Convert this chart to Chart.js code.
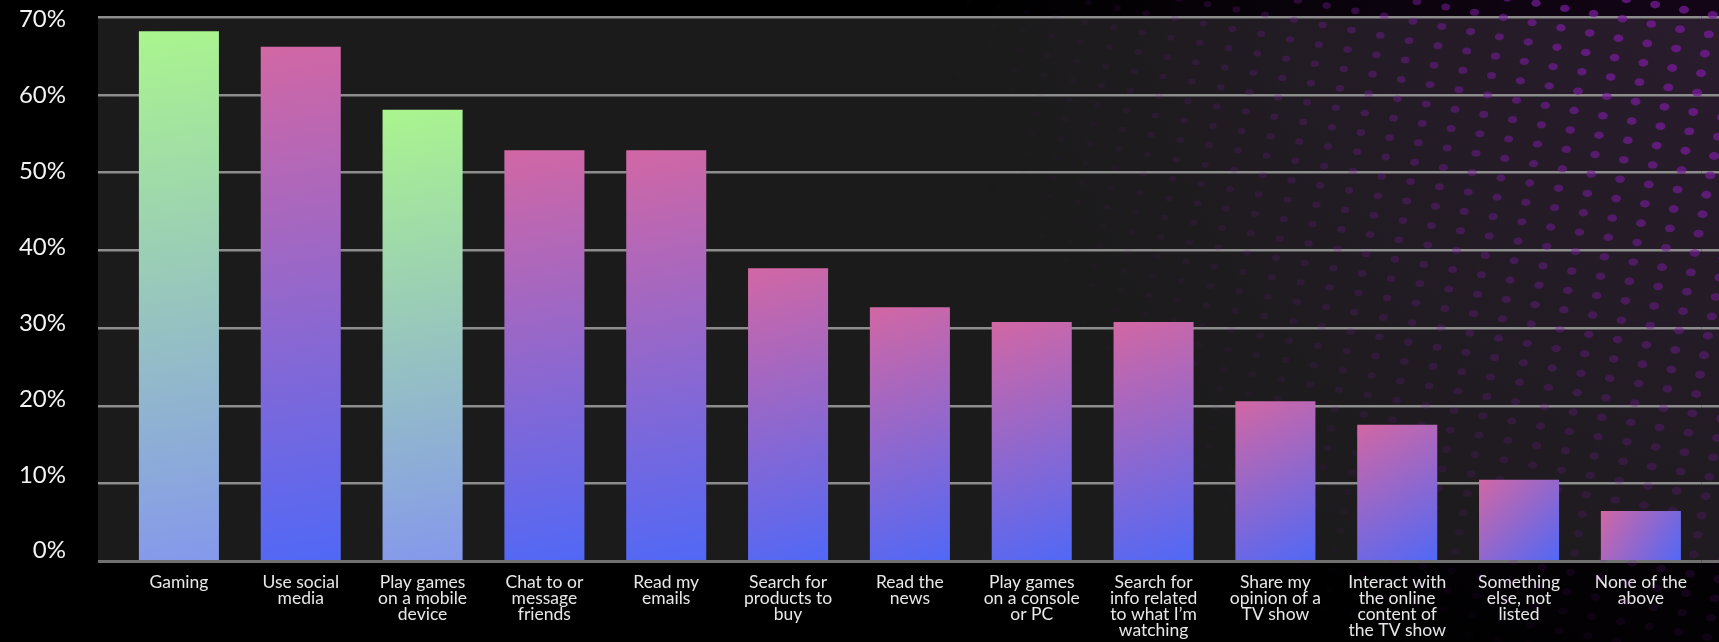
<!DOCTYPE html>
<html>
<head>
<meta charset="utf-8">
<title>Activities while watching TV</title>
<script src="https://cdn.jsdelivr.net/npm/chart.js@4.4.1/dist/chart.umd.min.js"></script>
<style>
    html, body { margin: 0; padding: 0; background: #000; overflow: hidden; }
    #wrap { width: 1719px; height: 642px; position: relative; }
    canvas { display: block; }
</style>
</head>
<body>
<div id="wrap"><canvas id="activity-chart"></canvas></div>
<script>
// Categories (multi-line tick labels)
const categories = [
    ['Gaming'],
    ['Use social', 'media'],
    ['Play games', 'on a mobile', 'device'],
    ['Chat to or', 'message', 'friends'],
    ['Read my', 'emails'],
    ['Search for', 'products to', 'buy'],
    ['Read the', 'news'],
    ['Play games', 'on a console', 'or PC'],
    ['Search for', 'info related', 'to what I’m', 'watching'],
    ['Share my', 'opinion of a', 'TV show'],
    ['Interact with', 'the online', 'content of', 'the TV show'],
    ['Something', 'else, not', 'listed'],
    ['None of the', 'above']
];

// Share of respondents, %
const shares = [68.2, 66.2, 58.1, 52.9, 52.9, 37.7, 32.7, 30.8, 30.8, 20.6, 17.6, 10.5, 6.5];

// Gaming-related bars get the green gradient
const isGaming = [true, false, true, false, false, false, false, false, false, false, false, false, false];

// Y axis ticks
const yTicks = [0, 10, 20, 30, 40, 50, 60, 70];

const BAR_PCT = 0.657;
const GRID = '#8d8d8d';

document.addEventListener('DOMContentLoaded', function () {

    // gradient for one bar, top-left corner -> bottom-right corner
    function barGradient(context) {
        const chart = context.chart;
        const i = context.dataIndex;
        const fallback = isGaming[i] ? '#a8f490' : '#c868aa';
        if (!chart.chartArea || context.type !== 'data') return fallback;
        const x = chart.scales.x;
        const y = chart.scales.y;
        const cx = x.getPixelForValue(i);
        const half = x.width / categories.length * BAR_PCT / 2;
        const top = y.getPixelForValue(shares[i]);
        const bottom = y.getPixelForValue(0);
        const g = chart.ctx.createLinearGradient(cx - half, top, cx + half, bottom);
        if (isGaming[i]) {
            g.addColorStop(0, '#aaf58e');
            g.addColorStop(1, '#8598ec');
        } else {
            g.addColorStop(0, '#d267a4');
            g.addColorStop(1, '#5068f6');
        }
        return g;
    }

    const gridColor = c => c.tick && c.tick.value === 0 ? '#707070' : GRID;
    const gridWidth = c => c.tick && c.tick.value === 0 ? 3 : 2.5;
    const fixedTicks = axis => { axis.ticks = yTicks.map(v => ({ value: v })); };

    // dark plot panel + purple dotted texture in the top right corner
    const backdrop = {
        id: 'backdrop',
        beforeDraw(chart) {
            const { ctx, chartArea, width, height } = chart;
            const y = chart.scales.y;
            const left = chartArea.left - y.options.grid.tickLength;
            ctx.save();
            ctx.fillStyle = '#000';
            ctx.fillRect(0, 0, width, height);
            ctx.fillStyle = '#1b1b1b';
            ctx.fillRect(left, chartArea.top, width - left, chartArea.bottom - chartArea.top);
            // faint purple glow
            const glow = ctx.createRadialGradient(width + 100, -100, 50, width + 100, -100, 850);
            glow.addColorStop(0, 'rgba(110, 30, 130, 0.2)');
            glow.addColorStop(1, 'rgba(110, 30, 130, 0)');
            ctx.fillStyle = glow;
            ctx.fillRect(0, 0, width, height);
            ctx.restore();
        },
        beforeDatasetsDraw(chart) {
            const { ctx, width, height } = chart;
            ctx.save();
            for (let i = -70; i < 20; i++) {
                for (let j = -20; j < 45; j++) {
                    const px = 1322.7 + i * 28.8 - j * 3.9;
                    const py = 25 + i * 5.2 + j * 19.4;
                    if (px < -10 || px > width + 10 || py < -10 || py > height + 10) continue;
                    const dist = Math.hypot(1900 - px, -150 - py);
                    const t = Math.min(1, Math.max(0, (1010 - dist) / 640));
                    const a = Math.pow(t, 1.6);
                    if (a <= 0.01) continue;
                    const r = 3.0 + 1.4 * Math.min(1, Math.max(0, (px - 1000) / 700));
                    ctx.fillStyle = 'rgba(120, 28, 155, ' + (a * 0.72).toFixed(3) + ')';
                    ctx.beginPath();
                    ctx.ellipse(px, py, r * 1.15, r * 0.9, 0, 0, Math.PI * 2);
                    ctx.fill();
                }
            }
            ctx.restore();
        }
    };

    const ctx = document.getElementById('activity-chart');
    new Chart(ctx.getContext('2d'), {
        type: 'bar',
        data: {
            labels: categories,
            datasets: [{
                data: shares,
                backgroundColor: barGradient,
                borderWidth: 0,
                barPercentage: BAR_PCT,
                categoryPercentage: 1
            }]
        },
        options: {
            responsive: true,
            maintainAspectRatio: false,
            animation: false,
            layout: { padding: { left: 14, right: 0, top: 17.2, bottom: 0 } },
            plugins: {
                legend: { display: false },
                tooltip: { enabled: false }
            },
            scales: {
                x: {
                    grid: { display: false, drawTicks: false },
                    border: { display: false },
                    ticks: {
                        color: '#e8e8e8',
                        font: { family: 'Lato', size: 17.5, lineHeight: 0.92 },
                        padding: 13,
                        maxRotation: 0,
                        autoSkip: false
                    },
                    afterFit(axis) {
                        axis.height = 80.5;
                        axis.paddingLeft = 0;
                        axis.paddingRight = 0;
                    }
                },
                // value axis: grid lines only
                y: {
                    weight: 0,
                    min: yTicks[0],
                    max: yTicks[yTicks.length - 1],
                    afterBuildTicks: fixedTicks,
                    afterFit(axis) {
                        axis.width = 52;
                        axis.paddingTop = 0;
                        axis.paddingBottom = 0;
                    },
                    grid: { color: gridColor, lineWidth: gridWidth, tickLength: 20 },
                    border: { display: false },
                    ticks: { display: false }
                },
                // percentage labels; in the original they sit on a slightly tighter spacing than the grid
                yLabels: {
                    position: 'left',
                    weight: 1,
                    min: -1.42,
                    max: 70.33,
                    afterBuildTicks: fixedTicks,
                    afterFit(axis) {
                        axis.width = 52;
                        axis.paddingTop = 0;
                        axis.paddingBottom = 0;
                    },
                    grid: { display: false, drawTicks: false },
                    border: { display: false },
                    ticks: {
                        color: '#f2f2f2',
                        font: { family: 'Lato', size: 24 },
                        padding: 0,
                        callback: v => v + '%'
                    }
                },
                // only here so the grid lines run on to the right edge
                yRight: {
                    position: 'right',
                    min: yTicks[0],
                    max: yTicks[yTicks.length - 1],
                    afterBuildTicks: fixedTicks,
                    afterFit(axis) {
                        axis.width = 17.2;
                        axis.paddingTop = 0;
                        axis.paddingBottom = 0;
                    },
                    grid: { drawOnChartArea: false, color: gridColor, lineWidth: gridWidth, tickLength: 17.2 },
                    border: { display: false },
                    ticks: { display: false }
                }
            }
        },
        plugins: [backdrop]
    });
});
</script>
</body>
</html>
